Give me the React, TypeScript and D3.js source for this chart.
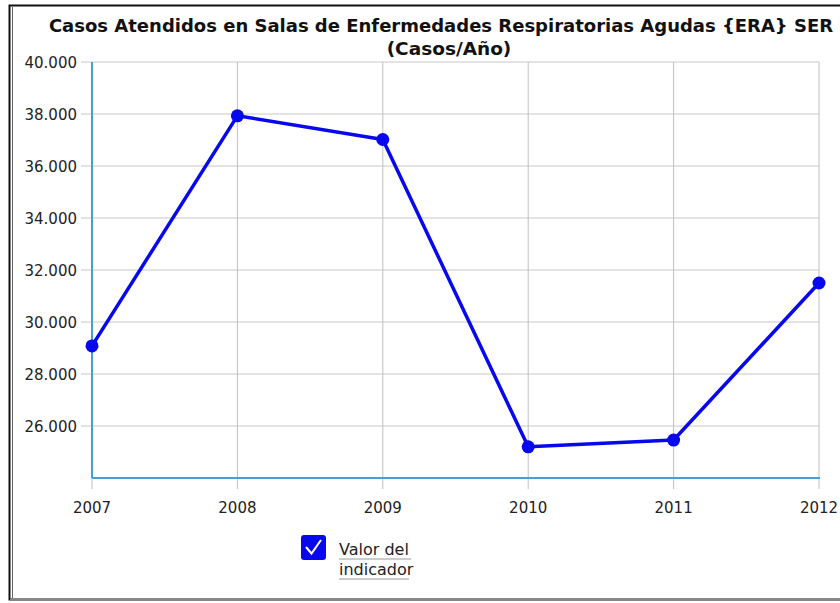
import React from "react";
import * as d3 from "d3";

const years = ["2007", "2008", "2009", "2010", "2011", "2012"];
const values = [29080, 37930, 37020, 25200, 25460, 31500];
const yTicks = [26000, 28000, 30000, 32000, 34000, 36000, 38000, 40000];
const titleLines = [
  "Casos Atendidos en Salas de Enfermedades Respiratorias Agudas {ERA} SER",
  "(Casos/Año)",
];
const legendLines = ["Valor del", "indicador"];

const W = 840;
const H = 603;
const left = 92;
const right = 819;
const top = 62;
const bottom = 478;

export default function App() {
  const x = d3.scalePoint<string>().domain(years).range([left, right]);
  const y = d3.scaleLinear().domain([24000, 40000]).range([bottom, top]);
  const fmt = (v: number) => d3.format(",")(v).replace(/,/g, ".");
  const line = d3
    .line<number>()
    .x((_, i) => x(years[i]) as number)
    .y((d) => y(d));
  const font = "'DejaVu Sans', Verdana, sans-serif";
  const blue = "#0808ee";
  return (
    <svg
      width={W}
      height={H}
      style={{ position: "absolute", left: 0, top: 0, background: "#fff" }}
      fontFamily={font}
    >
      <rect x={0} y={0} width={W} height={H} fill="#fff" />
      {/* frame */}
      <rect x={9.5} y={5.5} width={W + 20} height={594} fill="none" stroke="#111" strokeWidth={2} />
      <line x1={12.5} y1={7} x2={12.5} y2={598} stroke="#666" strokeWidth={1} />
      <line x1={10} y1={600} x2={W} y2={600} stroke="#888" strokeWidth={2} />
      {/* title */}
      {titleLines.map((t, i) => (
        <text
          key={i}
          x={i === 0 ? 441 : 449}
          y={32 + i * 23}
          textAnchor="middle"
          fontWeight="bold"
          fontSize={i === 0 ? 18 : 18.5}
          fill="#111"
        >
          {t}
        </text>
      ))}
      {/* horizontal grid */}
      {yTicks.map((t) => (
        <g key={t}>
          <line x1={81} x2={right} y1={y(t)} y2={y(t)} stroke="#c8c8c8" strokeWidth={1} />
          <text x={77} y={y(t) + 5.5} textAnchor="end" fontSize={15} fill="#222">
            {fmt(t)}
          </text>
        </g>
      ))}
      {/* vertical grid */}
      {years.map((yr) => (
        <g key={yr}>
          <line
            x1={x(yr)}
            x2={x(yr)}
            y1={top}
            y2={bottom + 11}
            stroke="#c0c0c0"
            strokeWidth={1}
          />
          <text x={x(yr)} y={513} textAnchor="middle" fontSize={15} fill="#222">
            {yr}
          </text>
        </g>
      ))}
      {/* axes */}
      <line x1={left} x2={left} y1={top} y2={bottom} stroke="#45a0d8" strokeWidth={2} />
      <line x1={left} x2={right + 1} y1={bottom} y2={bottom} stroke="#45a0d8" strokeWidth={2} />
      {/* series */}
      <path d={line(values) || ""} fill="none" stroke={blue} strokeWidth={3.5} strokeLinejoin="round" />
      {values.map((v, i) => (
        <circle key={i} cx={x(years[i])} cy={y(v)} r={6.5} fill={blue} />
      ))}
      {/* legend */}
      <rect x={301} y={535} width={25} height={25} rx={3} fill={blue} />
      <path d="M306 547 L311.5 553.5 L321 540" fill="none" stroke="#fff" strokeWidth={2} />
      {legendLines.map((t, i) => (
        <g key={i}>
          <text x={339} y={555 + i * 20} fontSize={16} fill="#222">
            {t}
          </text>
          <line
            x1={339}
            x2={339 + (i === 0 ? 72 : 70)}
            y1={559 + i * 20}
            y2={559 + i * 20}
            stroke="#999"
            strokeWidth={1}
          />
        </g>
      ))}
    </svg>
  );
}
